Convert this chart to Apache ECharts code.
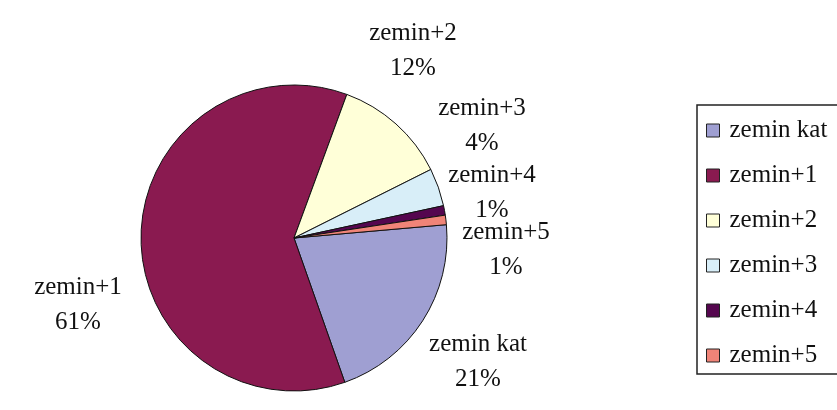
<!DOCTYPE html>
<html>
<head>
<meta charset="utf-8">
<script src="https://cdn.jsdelivr.net/npm/echarts@6/dist/echarts.min.js"></script>
<style>
  html, body { margin: 0; padding: 0; background: #fff; }
  #chart { width: 837px; height: 410px; }
</style>
</head>
<body>
<div id="chart"></div>
<script>
// kat dağılımı (%)
const categories = ["zemin kat", "zemin+1", "zemin+2", "zemin+3", "zemin+4", "zemin+5"];
const values = [21, 61, 12, 4, 1, 1];
const colors = ["#9f9fd2", "#8a1a50", "#ffffd8", "#d8eef8", "#55064f", "#f08478"];

const chart = echarts.init(document.getElementById("chart"));

// etiket merkezleri (Excel elle yerleştirmiş)
const labelSpots = [
  [478, 362], // zemin kat
  [78, 305],  // zemin+1
  [413, 51],  // zemin+2
  [482, 126], // zemin+3
  [492, 193], // zemin+4
  [506, 250], // zemin+5
];

const option = {
  animation: false,
  color: colors,
  textStyle: { fontFamily: "Liberation Serif" },
  legend: {
    orient: "vertical",
    left: 697,
    top: 105,
    data: categories,
    icon: "rect",
    itemWidth: 13,
    itemHeight: 13,
    itemGap: 20,
    padding: [13, 80, 6, 9],
    borderColor: "#222",
    borderWidth: 1.5,
    itemStyle: { borderColor: "#222", borderWidth: 1 },
    textStyle: {
      fontFamily: "Liberation Serif",
      fontSize: 25,
      color: "#111",
      padding: [0, 0, 0, 5],
    },
  },
  series: [
    {
      type: "pie",
      center: [294, 238],
      radius: 153,
      startAngle: 5,
      clockwise: true,
      data: categories.map((name, i) => ({ name: name, value: values[i] })),
      itemStyle: { borderColor: "#111", borderWidth: 1 },
      emphasis: { disabled: true },
      label: {
        show: true,
        position: "outside",
        overflow: "none",
        formatter: (p) => p.name + "\n" + Math.round(p.percent) + "%",
        fontFamily: "Liberation Serif",
        fontSize: 25,
        lineHeight: 35,
        color: "#111",
        align: "center",
      },
      labelLine: { show: false },
      labelLayout: (params) => {
        const spot = labelSpots[params.dataIndex];
        return {
          x: spot[0],
          y: spot[1],
          align: "center",
          verticalAlign: "middle",
        };
      },
    },
  ],
};

chart.setOption(option);
</script>
</body>
</html>
